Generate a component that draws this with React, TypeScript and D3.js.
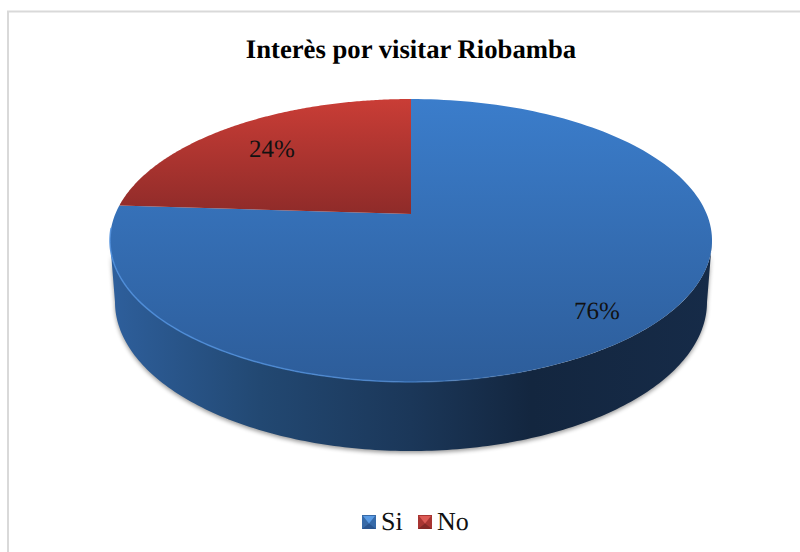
import React from "react";
import * as d3 from "d3";

const categories = ["Si", "No"];
const shares = [76, 24];
const chartTitle = "Interès por visitar Riobamba";

const WIDTH = 800;
const HEIGHT = 552;
const CX = 411;

// Perspective projection of the unit circle onto the tilted pie top.
const APEX_Y = 214;
const SCALE_X = 295.7;
const SCALE_Y = 136.5;
const TILT = 0.1873;
const project = (a: number): [number, number] => {
  const u = Math.sin(a);
  const v = Math.cos(a);
  const w = 1 + TILT * v;
  return [CX + (SCALE_X * u) / w, APEX_Y - (SCALE_Y * v) / w];
};

// Lower rim of the cylinder wall.
const BASE_CY = 302;
const BASE_RX = 296;
const BASE_RY = 149;

const pieGen = d3.pie<number>().sort(null).startAngle(0).endAngle(2 * Math.PI);
const arcs = pieGen(shares);

const line = d3.line();
const sample = (a0: number, a1: number, n = 180) =>
  d3.range(n + 1).map((i) => a0 + ((a1 - a0) * i) / n);

const slicePath = (a0: number, a1: number) =>
  (line([[CX, APEX_Y], ...sample(a0, a1).map(project)]) as string) + "Z";

// Visible wall: follows the top rim between its widest points, then returns along the base.
const wallPath = () => {
  const widest = Math.acos(-TILT);
  const upper = sample(widest, 2 * Math.PI - widest).map(project);
  const base = sample(Math.PI, 0).map(
    (t): [number, number] => [CX + BASE_RX * Math.cos(t), BASE_CY + BASE_RY * Math.sin(t)]
  );
  return (line([...upper, ...base]) as string) + "Z";
};

const topFills = ["url(#topBlue)", "url(#topRed)"];
const labelAnchors: [number, number][] = [
  [597, 319],
  [272, 157],
];

const serif = "'Liberation Serif', 'Times New Roman', serif";

function LegendKey({ x, y, light, mid, dark }: { x: number; y: number; light: string; mid: string; dark: string }) {
  const s = 14;
  return (
    <g transform={`translate(${x},${y})`}>
      <rect width={s} height={s} fill={mid} />
      <path d={`M0,${s}H${s}L${s / 2},${s * 0.6}Z`} fill={dark} />
      <path d={`M1,1H${s - 1}L${s / 2},${s * 0.6}Z`} fill={light} />
    </g>
  );
}

export default function App() {
  const wall = wallPath();
  const rim = line(sample(Math.PI / 2 + 0.1, (3 * Math.PI) / 2 - 0.1).map(project)) as string;
  return (
    <svg
      width={WIDTH}
      height={HEIGHT}
      viewBox={`0 0 ${WIDTH} ${HEIGHT}`}
      textRendering="geometricPrecision"
      style={{ position: "fixed", left: 0, top: 0, background: "#fff", display: "block" }}
    >
      <defs>
        <linearGradient id="topBlue" gradientUnits="userSpaceOnUse" x1={0} y1={99} x2={0} y2={382}>
          <stop offset="0" stopColor="#3b7dcb" />
          <stop offset="1" stopColor="#2d5d9a" />
        </linearGradient>
        <linearGradient id="topRed" gradientUnits="userSpaceOnUse" x1={0} y1={99} x2={0} y2={214}>
          <stop offset="0" stopColor="#c93d36" />
          <stop offset="1" stopColor="#8f2b29" />
        </linearGradient>
        <linearGradient id="side" gradientUnits="userSpaceOnUse" x1={110} y1={0} x2={712} y2={0}>
          <stop offset="0" stopColor="#2e5f9c" />
          <stop offset="0.25" stopColor="#224872" />
          <stop offset="0.5" stopColor="#1b3759" />
          <stop offset="0.7" stopColor="#13263f" />
          <stop offset="1" stopColor="#162b48" />
        </linearGradient>
        <linearGradient id="rimStroke" gradientUnits="userSpaceOnUse" x1={110} y1={0} x2={560} y2={0}>
          <stop offset="0" stopColor="#4f8fdc" stopOpacity={0.9} />
          <stop offset="0.6" stopColor="#4f8fdc" stopOpacity={0.7} />
          <stop offset="1" stopColor="#4f8fdc" stopOpacity={0} />
        </linearGradient>
        <filter id="soft" x="-5%" y="-5%" width="110%" height="110%">
          <feGaussianBlur stdDeviation="2" />
        </filter>
        <filter id="rimBlur" x="-5%" y="-5%" width="110%" height="110%">
          <feGaussianBlur stdDeviation="0.7" />
        </filter>
      </defs>

      <rect x={8} y={11.5} width={WIDTH} height={HEIGHT} fill="#fff" stroke="#d9d9d9" strokeWidth={2} />

      <text x={411} y={58} textAnchor="middle" fontFamily={serif} fontWeight="bold" fontSize={26.7} fill="#000">
        {chartTitle}
      </text>

      <path d={wall} fill="#000" opacity={0.4} filter="url(#soft)" transform="translate(0,2)" />
      <path d={wall} fill="url(#side)" />

      {arcs.map((d, i) => (
        <path key={categories[i]} d={slicePath(d.startAngle, d.endAngle)} fill={topFills[i]} />
      ))}
      <path d={rim} fill="none" stroke="url(#rimStroke)" strokeWidth={1.5} filter="url(#rimBlur)" />

      {arcs.map((d, i) => (
        <text
          key={categories[i]}
          x={labelAnchors[i][0]}
          y={labelAnchors[i][1]}
          textAnchor="middle"
          fontFamily={serif}
          fontSize={25}
          fill="#111"
        >
          {`${d.value}%`}
        </text>
      ))}

      <LegendKey x={362} y={515} light="#5a9be4" mid="#376aa8" dark="#2a5590" />
      <text x={381} y={530} fontFamily={serif} fontSize={26} fill="#111">{categories[0]}</text>
      <LegendKey x={418} y={515} light="#dc5a55" mid="#a83532" dark="#842826" />
      <text x={437} y={530} fontFamily={serif} fontSize={26} fill="#111">{categories[1]}</text>
    </svg>
  );
}
